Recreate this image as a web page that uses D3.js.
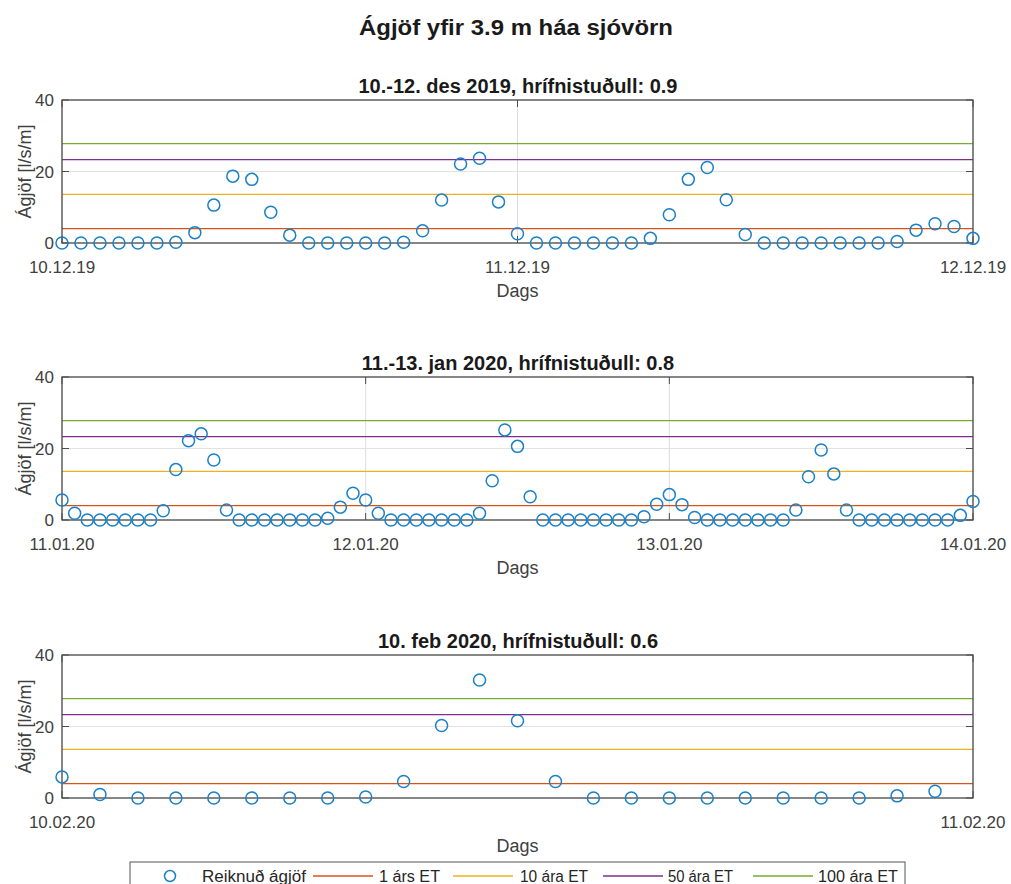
<!DOCTYPE html>
<html>
<head>
<meta charset="utf-8">
<script src="https://cdn.jsdelivr.net/npm/d3@7"></script>
<style>
body { margin: 0; background: #fff; }
svg { font-family: "Liberation Sans", Arial, sans-serif; }
.tick-label { font-size: 17px; fill: #404040; }
.axis-label { font-size: 18px; fill: #404040; }
.panel-title { font-size: 20px; font-weight: bold; fill: #1a1a1a; }
.main-title { font-size: 22px; font-weight: bold; fill: #1a1a1a; }
.legend-text { font-size: 16px; fill: #262626; }
</style>
</head>
<body>
<svg width="1011" height="884"></svg>
<script>
var width = 1011;
var height = 884;

// hourly values, l/s/m
var desValues = [0, 0, 0, 0, 0, 0, 0.2, 2.9, 10.6, 18.7, 17.8, 8.6, 2.2, 0, 0, 0, 0, 0, 0.2, 3.4,
    12.0, 22.1, 23.7, 11.5, 2.6, 0, 0, 0, 0, 0, 0, 1.3, 7.9, 17.8, 21.1, 12.1, 2.4, 0, 0, 0,
    0, 0, 0, 0, 0.4, 3.6, 5.4, 4.6, 1.3];
var janValues = [5.6, 1.9, 0, 0, 0, 0, 0, 0, 2.6, 14.1, 22.2, 24.1, 16.8, 2.8, 0, 0, 0, 0, 0, 0,
    0, 0.5, 3.6, 7.5, 5.6, 1.9, 0, 0, 0, 0, 0, 0, 0, 1.9, 11.0, 25.2, 20.6, 6.5, 0, 0,
    0, 0, 0, 0, 0, 0, 0.9, 4.4, 7.1, 4.3, 0.7, 0, 0, 0, 0, 0, 0, 0, 2.8, 12.1,
    19.6, 12.9, 2.8, 0, 0, 0, 0, 0, 0, 0, 0, 1.3, 5.2];
var febValues = [5.9, 1.0, 0, 0, 0, 0, 0, 0, 0.3, 4.6, 20.3, 33.0, 21.6, 4.6, 0, 0, 0, 0, 0, 0,
    0, 0, 0.6, 1.9];

var etLevels = [4.0, 13.6, 23.3, 27.8];
var etNames = ["1 árs ET", "10 ára ET", "50 ára ET", "100 ára ET"];
var etColors = ["#D95319", "#EDB120", "#7E2F8E", "#77AC30"];

var panelTitles = ["10.-12. des 2019, hrífnistuðull: 0.9",
    "11.-13. jan 2020, hrífnistuðull: 0.8",
    "10. feb 2020, hrífnistuðull: 0.6"];
var panelStarts = [new Date(2019, 11, 10), new Date(2020, 0, 11), new Date(2020, 1, 10)];
var panelEnds = [new Date(2019, 11, 12), new Date(2020, 0, 14), new Date(2020, 1, 11)];
var panelValues = [desValues, janValues, febValues];
var yTicks = [0, 20, 40];

var markerColor = "#1a80c8";
var boxColor = "#4d4d4d";

var svg = d3.select("svg")
    .attr("width", width)
    .attr("height", height);

svg.append("text")
    .attr("class", "main-title")
    .attr("x", 516)
    .attr("y", 35)
    .attr("text-anchor", "middle")
    .attr("textLength", 314).attr("lengthAdjust", "spacingAndGlyphs")
    .text("Ágjöf yfir 3.9 m háa sjóvörn");

var left = 62, right = 973, plotH = 143;
var tops = [100, 377, 655];
var fmt = d3.timeFormat("%d.%m.%y");

panelValues.forEach(function(values, p) {
    var top = tops[p];
    var bottom = top + plotH;
    var start = panelStarts[p];

    var x = d3.scaleTime()
        .domain([start, panelEnds[p]])
        .range([left, right]);
    var y = d3.scaleLinear()
        .domain([0, 40])
        .range([bottom, top]);

    var g = svg.append("g");
    var xTicks = d3.timeDay.range(start, d3.timeDay.offset(panelEnds[p], 1));

    // faint grid
    g.selectAll("line.xgrid")
        .data(xTicks)
        .enter()
        .append("line")
        .attr("x1", d => x(d)).attr("x2", d => x(d))
        .attr("y1", top).attr("y2", bottom)
        .attr("stroke", "#dcdcdc").attr("stroke-width", 1);
    g.selectAll("line.ygrid")
        .data(yTicks)
        .enter()
        .append("line")
        .attr("x1", left).attr("x2", right)
        .attr("y1", d => y(d)).attr("y2", d => y(d))
        .attr("stroke", "#e2e2e2").attr("stroke-width", 1);

    // return-period lines
    g.selectAll("line.et")
        .data(etLevels)
        .enter()
        .append("line")
        .attr("x1", left).attr("x2", right)
        .attr("y1", d => y(d)).attr("y2", d => y(d))
        .attr("stroke", (d, i) => etColors[i])
        .attr("stroke-width", 1.3);

    // box
    g.append("rect")
        .attr("x", left).attr("y", top)
        .attr("width", right - left).attr("height", plotH)
        .attr("fill", "none")
        .attr("stroke", boxColor).attr("stroke-width", 1.3);

    // inner ticks
    xTicks.forEach(function(d) {
        g.append("line").attr("x1", x(d)).attr("x2", x(d))
            .attr("y1", bottom).attr("y2", bottom - 7).attr("stroke", boxColor);
        g.append("line").attr("x1", x(d)).attr("x2", x(d))
            .attr("y1", top).attr("y2", top + 7).attr("stroke", boxColor);
    });
    yTicks.forEach(function(d) {
        g.append("line").attr("x1", left).attr("x2", left + 7)
            .attr("y1", y(d)).attr("y2", y(d)).attr("stroke", boxColor);
        g.append("line").attr("x1", right).attr("x2", right - 7)
            .attr("y1", y(d)).attr("y2", y(d)).attr("stroke", boxColor);
    });

    // data
    g.selectAll("circle")
        .data(values)
        .enter()
        .append("circle")
        .attr("cx", (d, i) => x(d3.timeHour.offset(start, i)))
        .attr("cy", d => y(d))
        .attr("r", 6)
        .attr("fill", "none")
        .attr("stroke", markerColor)
        .attr("stroke-width", 1.5);

    // tick labels
    g.selectAll("text.xt")
        .data(xTicks)
        .enter()
        .append("text")
        .attr("class", "tick-label")
        .attr("x", d => x(d))
        .attr("y", bottom + 30)
        .attr("text-anchor", "middle")
        .text(d => fmt(d));
    g.selectAll("text.yt")
        .data(yTicks)
        .enter()
        .append("text")
        .attr("class", "tick-label")
        .attr("x", left - 8)
        .attr("y", d => y(d) + 6)
        .attr("text-anchor", "end")
        .text(d => d);

    g.append("text")
        .attr("class", "axis-label")
        .attr("transform", "translate(31," + (top + plotH / 2) + ") rotate(-90)")
        .attr("text-anchor", "middle")
        .text("Ágjöf [l/s/m]");

    g.append("text")
        .attr("class", "axis-label")
        .attr("x", (left + right) / 2)
        .attr("y", bottom + 54)
        .attr("text-anchor", "middle")
        .text("Dags");

    g.append("text")
        .attr("class", "panel-title")
        .attr("x", 518)
        .attr("y", top - 7)
        .attr("text-anchor", "middle")
        .text(panelTitles[p]);
});

// legend
var legend = svg.append("g");
legend.append("rect")
    .attr("x", 130).attr("y", 862)
    .attr("width", 775).attr("height", 30)
    .attr("fill", "#fff")
    .attr("stroke", "#555").attr("stroke-width", 1);

var ly = 876;
legend.append("circle")
    .attr("cx", 170).attr("cy", ly).attr("r", 5.5)
    .attr("fill", "none").attr("stroke", markerColor).attr("stroke-width", 1.5);
legend.append("text")
    .attr("class", "legend-text")
    .attr("x", 202).attr("y", ly + 6)
    .attr("textLength", 104).attr("lengthAdjust", "spacingAndGlyphs")
    .text("Reiknuð ágjöf");

var lineStarts = [313, 453, 603, 753];
var textStarts = [379, 520, 668, 818];
var textLens = [61, 68, 65, 80];
etNames.forEach(function(name, i) {
    legend.append("line")
        .attr("x1", lineStarts[i]).attr("x2", lineStarts[i] + 60)
        .attr("y1", ly).attr("y2", ly)
        .attr("stroke", etColors[i]).attr("stroke-width", 1.3);
    legend.append("text")
        .attr("class", "legend-text")
        .attr("x", textStarts[i]).attr("y", ly + 6)
        .attr("textLength", textLens[i]).attr("lengthAdjust", "spacingAndGlyphs")
        .text(name);
});
</script>
</body>
</html>
